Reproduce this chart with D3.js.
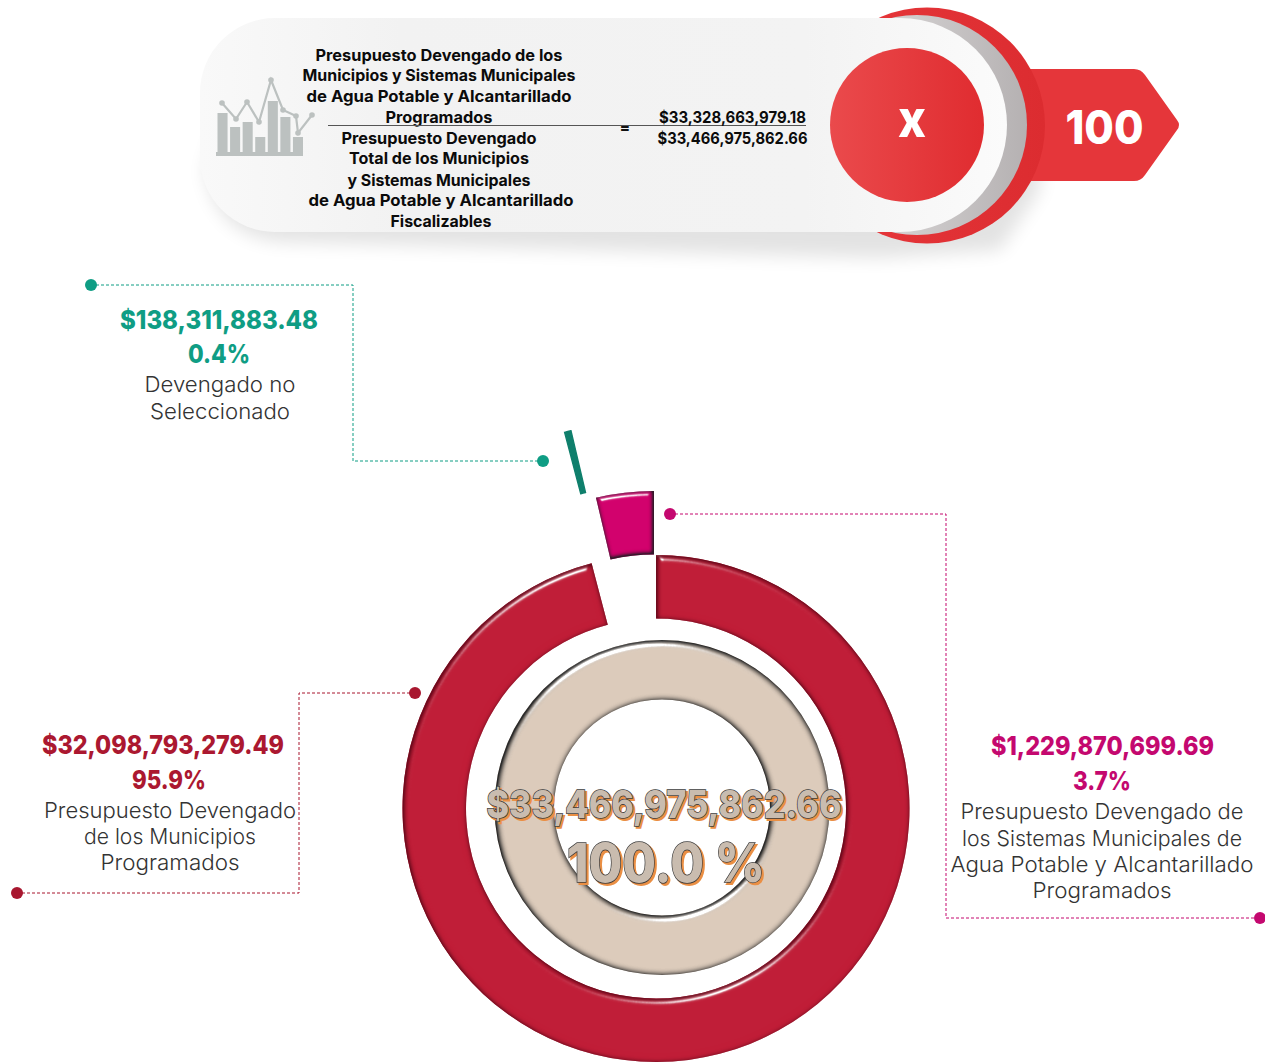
<!DOCTYPE html>
<html><head><meta charset="utf-8">
<script src="https://cdn.jsdelivr.net/npm/d3@7/dist/d3.min.js"></script>
<style>html,body{margin:0;padding:0;background:#fff;overflow:hidden}svg{display:block}text{font-family:Inter,"Noto Sans",sans-serif}</style>
</head><body><svg id="c" width="1265" height="1062"></svg>
<script>
// ---- data ----
const sliceNames = ["Presupuesto Devengado de los Municipios Programados","Devengado no Seleccionado","Presupuesto Devengado de los Sistemas Municipales de Agua Potable y Alcantarillado Programados"];
const sliceValues = [32098793279.49, 138311883.48, 1229870699.69];
const sliceColors = ["#c01d37","#0f7f6c","#d2006c"];
const totalValue = [33466975862.66];
const amountLabels = ["$32,098,793,279.49","$138,311,883.48","$1,229,870,699.69"];
const percentLabels = ["95.9%","0.4%","3.7%"];
const numeratorLines = ["Presupuesto Devengado de los","Municipios y Sistemas Municipales","de Agua Potable y Alcantarillado","Programados"];
const denominatorLines = ["Presupuesto Devengado","Total de los Municipios","y Sistemas Municipales","de Agua Potable y Alcantarillado","Fiscalizables"];
const formulaValues = ["$33,328,663,979.18","$33,466,975,862.66"];
const centerLabels = ["$33,466,975,862.66","100.0 %"];
const iconBars = [39,25,30,15,51,35,15];
const iconLineX = [0,14,25,37,49,61,74,76,90];
const iconLineY = [49,33,50,30,72,42,36,19,37];

const svg = d3.select("#c");
const defs = svg.append("defs");

// ---- filters and gradients ----
function bevel(id, blur, scale, spec, shadow, shadowOp, dx){
  const f = defs.append("filter").attr("id",id).attr("x","-10%").attr("y","-10%").attr("width","120%").attr("height","120%").attr("color-interpolation-filters","sRGB");
  f.append("feGaussianBlur").attr("in","SourceAlpha").attr("stdDeviation",blur).attr("result","b");
  const s = f.append("feSpecularLighting").attr("in","b").attr("surfaceScale",scale).attr("specularConstant",spec).attr("specularExponent",38).attr("lighting-color","#fff").attr("result","sp");
  s.append("feDistantLight").attr("azimuth",250).attr("elevation",32);
  f.append("feComposite").attr("in","sp").attr("in2","SourceAlpha").attr("operator","in").attr("result","sp2");
  f.append("feComponentTransfer").attr("in","SourceAlpha").attr("result","inv").append("feFuncA").attr("type","table").attr("tableValues","1 0");
  f.append("feOffset").attr("in","inv").attr("dx",dx).attr("dy",dx).attr("result","off");
  f.append("feGaussianBlur").attr("in","off").attr("stdDeviation",blur*0.9).attr("result","ib0");
  f.append("feComponentTransfer").attr("in","ib0").attr("result","ib").append("feFuncA").attr("type","linear").attr("slope",1.9);
  f.append("feFlood").attr("flood-color",shadow).attr("flood-opacity",shadowOp);
  f.append("feComposite").attr("in2","ib").attr("operator","in").attr("result","sh");
  f.append("feComposite").attr("in","sh").attr("in2","SourceAlpha").attr("operator","in").attr("result","sh2");
  const m = f.append("feMerge");
  ["SourceGraphic","sh2","sp2"].forEach(n=>m.append("feMergeNode").attr("in",n));
}
bevel("bevRed",3,5,1.0,"#6a0a1c",0.95,0.8);
bevel("bevPink",2.4,4,1.2,"#2c1a28",0.95,-0.6);
bevel("bevBeige",3.6,5.5,2.0,"#2a2a2a",1,0.6);

function grad(id, stops, x2){
  const g = defs.append("linearGradient").attr("id",id).attr("x1",0).attr("y1",0).attr("x2",x2===undefined?1:x2).attr("y2",x2===undefined?0:1);
  stops.forEach(s=>g.append("stop").attr("offset",s[0]).attr("stop-color",s[1]));
}
grad("gCircle",[[0,"#ea4a4c"],[1,"#e02c30"]]);
grad("gRing",[[0,"#e8383c"],[1,"#dc2c30"]]);
grad("gPill",[[0,"#f9f9f9"],[0.25,"#f2f2f2"],[0.75,"#f3f3f3"],[1,"#fbfbfb"]]);
grad("gCres",[[0,"#e8e6e6"],[1,"#b5b1b2"]]);
const sh = defs.append("filter").attr("id","soft").attr("x","-10%").attr("y","-30%").attr("width","120%").attr("height","170%");
sh.append("feGaussianBlur").attr("stdDeviation",9);

// ---- header formula ----
const head = svg.append("g");
const pillPath = "M275,18 H900 A107,107 0 0 1 900,232 H275 A75,75 0 0 1 200,157 V93 A75,75 0 0 1 275,18 Z";
head.append("path").attr("d","M240,60 H900 A120,120 0 0 1 1040,190 L1000,250 L880,258 L280,242 Q215,235 205,170 Z").attr("fill","#000").attr("opacity",0.11).attr("filter","url(#soft)");
head.append("path").attr("d","M1030,69 H1134 Q1141,69 1145,75 L1177,120 Q1181,125 1177,130 L1145,175 Q1141,181 1134,181 H1030 Z").attr("fill","#e5363a");
head.append("circle").attr("cx",927).attr("cy",125.5).attr("r",118).attr("fill","url(#gRing)");
head.append("circle").attr("cx",917).attr("cy",125).attr("r",110).attr("fill","url(#gCres)");
head.append("path").attr("d",pillPath).attr("fill","url(#gPill)");
head.append("circle").attr("cx",907).attr("cy",125).attr("r",77).attr("fill","url(#gCircle)");

function txt(parent,x,y,s,size,weight,fill,width,anchor){
  const t = parent.append("text").attr("x",x).attr("y",y).attr("text-anchor",anchor||"middle").attr("dominant-baseline","central")
    .attr("font-size",size).attr("font-weight",weight).attr("fill",fill).text(s);
  if(width) t.attr("textLength",width).attr("lengthAdjust","spacingAndGlyphs");
  return t;
}
const numY=[55,75,96,117], numW=[247,273,265,107];
numeratorLines.forEach((s,i)=>txt(head,439,numY[i],s,16,700,"#0b0b0b",numW[i]));
const denY=[138,158,180,200,221], denW=[195,180,183,265,101];
denominatorLines.forEach((s,i)=>txt(head,[439,439,439,441,441][i],denY[i],s,16,700,"#0b0b0b",denW[i]));
head.append("line").attr("x1",328).attr("x2",806).attr("y1",125.5).attr("y2",125.5).attr("stroke","#555").attr("stroke-width",1);
txt(head,625,127,"=",15,800,"#111");
txt(head,732.5,117,formulaValues[0],16,700,"#0b0b0b",147);
txt(head,732.5,138,formulaValues[1],16,700,"#0b0b0b",150);
txt(head,912,118,"x",52,800,"#fff",28);
txt(head,1104.5,126,"100",47,800,"#fff",78);

// ---- header icon, from its own small scales ----
const icon = head.append("g");
const iconX = d3.scaleBand().domain(d3.range(iconBars.length)).range([217.5,303]).paddingInner(0.2);
const iconY = d3.scaleLinear().domain([0,100]).range([152,52]);
const iconLx = d3.scaleLinear().domain([0,90]).range([222,312]);
icon.selectAll("rect.b").data(iconBars).join("rect").attr("class","b")
  .attr("x",(d,i)=>iconX(i)).attr("width",iconX.bandwidth()).attr("y",d=>iconY(d)).attr("height",d=>iconY(0)-iconY(d)).attr("fill","#bcc1c0");
icon.append("rect").attr("x",216).attr("y",152).attr("width",87).attr("height",4).attr("fill","#bcc1c0");
const iconPts = iconLineX.map((x,i)=>[iconLx(x),iconY(iconLineY[i])]);
icon.append("path").attr("d",d3.line()(iconPts)).attr("fill","none").attr("stroke","#bcc1c0").attr("stroke-width",2.2);
icon.selectAll("circle").data(iconPts).join("circle").attr("cx",d=>d[0]).attr("cy",d=>d[1]).attr("r",2.8).attr("fill","#bcc1c0");

// ---- donut from pie layout ----
const cx=656, cy=808.5;
const pie = d3.pie().sort(null).value(d=>d);
const arcOuter = d3.arc().innerRadius(190).outerRadius(253.5);
const explode = [[0,0],[-27,-131],[-2,-64]];
const bevelIds = ["bevRed",null,"bevPink"];
svg.append("g").selectAll("path").data(pie(sliceValues)).join("path")
  .attr("transform",(d,i)=>`translate(${cx+explode[i][0]},${cy+explode[i][1]})`)
  .attr("d",arcOuter).attr("fill",(d,i)=>sliceColors[i])
  .attr("stroke",(d,i)=>i==1?sliceColors[i]:"none").attr("stroke-width",1.4)
  .attr("filter",(d,i)=>bevelIds[i]?`url(#${bevelIds[i]})`:null);

const arcInner = d3.arc().innerRadius(108).outerRadius(167.5);
svg.append("g").selectAll("path").data(pie(totalValue)).join("path")
  .attr("transform","translate(662,807.5)").attr("d",arcInner).attr("fill","#dccbbb").attr("filter","url(#bevBeige)");

// ---- center labels ----
function outlined(x,y,s,size,width){
  const shadow = txt(svg,x+2,y+2,s,size,800,"#ea8f44",width);
  shadow.attr("stroke","#ea8f44").attr("stroke-width",1.8);
  const t = txt(svg,x,y,s,size,800,"#c9bcaf",width);
  t.attr("stroke","#3c3c3c").attr("stroke-width",1.5).attr("paint-order","stroke");
}
outlined(664,804,centerLabels[0],38,355);
outlined(666,862,centerLabels[1],54,198);

// ---- callouts ----
const lineColors = ["#a8172f","#0f9d84","#c4086f"];
const leader = d3.line();
function callout(i,pts){
  svg.append("path").attr("d",leader(pts)).attr("fill","none").attr("stroke",lineColors[i]).attr("stroke-width",1).attr("stroke-dasharray","3 2");
  [pts[0],pts[pts.length-1]].forEach(p=>svg.append("circle").attr("cx",p[0]).attr("cy",p[1]).attr("r",6).attr("fill",lineColors[i]));
}
callout(0,[[415,693],[299,693],[299,893],[17,893]]);
callout(1,[[91,285],[353,285],[353,461],[543,461]]);
callout(2,[[670,514],[946,514],[946,918],[1260,918]]);

const bodyW = 300, bodyC = "#333";
txt(svg,163,744.5,amountLabels[0],26,800,"#ab1830",242);
txt(svg,169,779.5,percentLabels[0],26,800,"#ab1830",74);
txt(svg,170,809.5,"Presupuesto Devengado",22,bodyW,bodyC,252);
txt(svg,170,835.5,"de los Municipios",22,bodyW,bodyC,172);
txt(svg,170,861.5,"Programados",22,bodyW,bodyC,139);

txt(svg,219,319.5,amountLabels[1],26,800,"#0f9d84",198);
txt(svg,219,353.5,percentLabels[1],26,800,"#0f9d84",62);
txt(svg,220,383.5,"Devengado no",22,bodyW,bodyC,151);
txt(svg,220,410.5,"Seleccionado",22,bodyW,bodyC,140);

txt(svg,1102.5,745.5,amountLabels[2],26,800,"#c4086f",223);
txt(svg,1102,780.5,percentLabels[2],26,800,"#c4086f",58);
txt(svg,1102,810.5,"Presupuesto Devengado de",22,bodyW,bodyC,283);
txt(svg,1102,837.5,"los Sistemas Municipales de",22,bodyW,bodyC,280);
txt(svg,1102,863.5,"Agua Potable y Alcantarillado",22,bodyW,bodyC,303);
txt(svg,1102,889.5,"Programados",22,bodyW,bodyC,139);
</script></body></html>
